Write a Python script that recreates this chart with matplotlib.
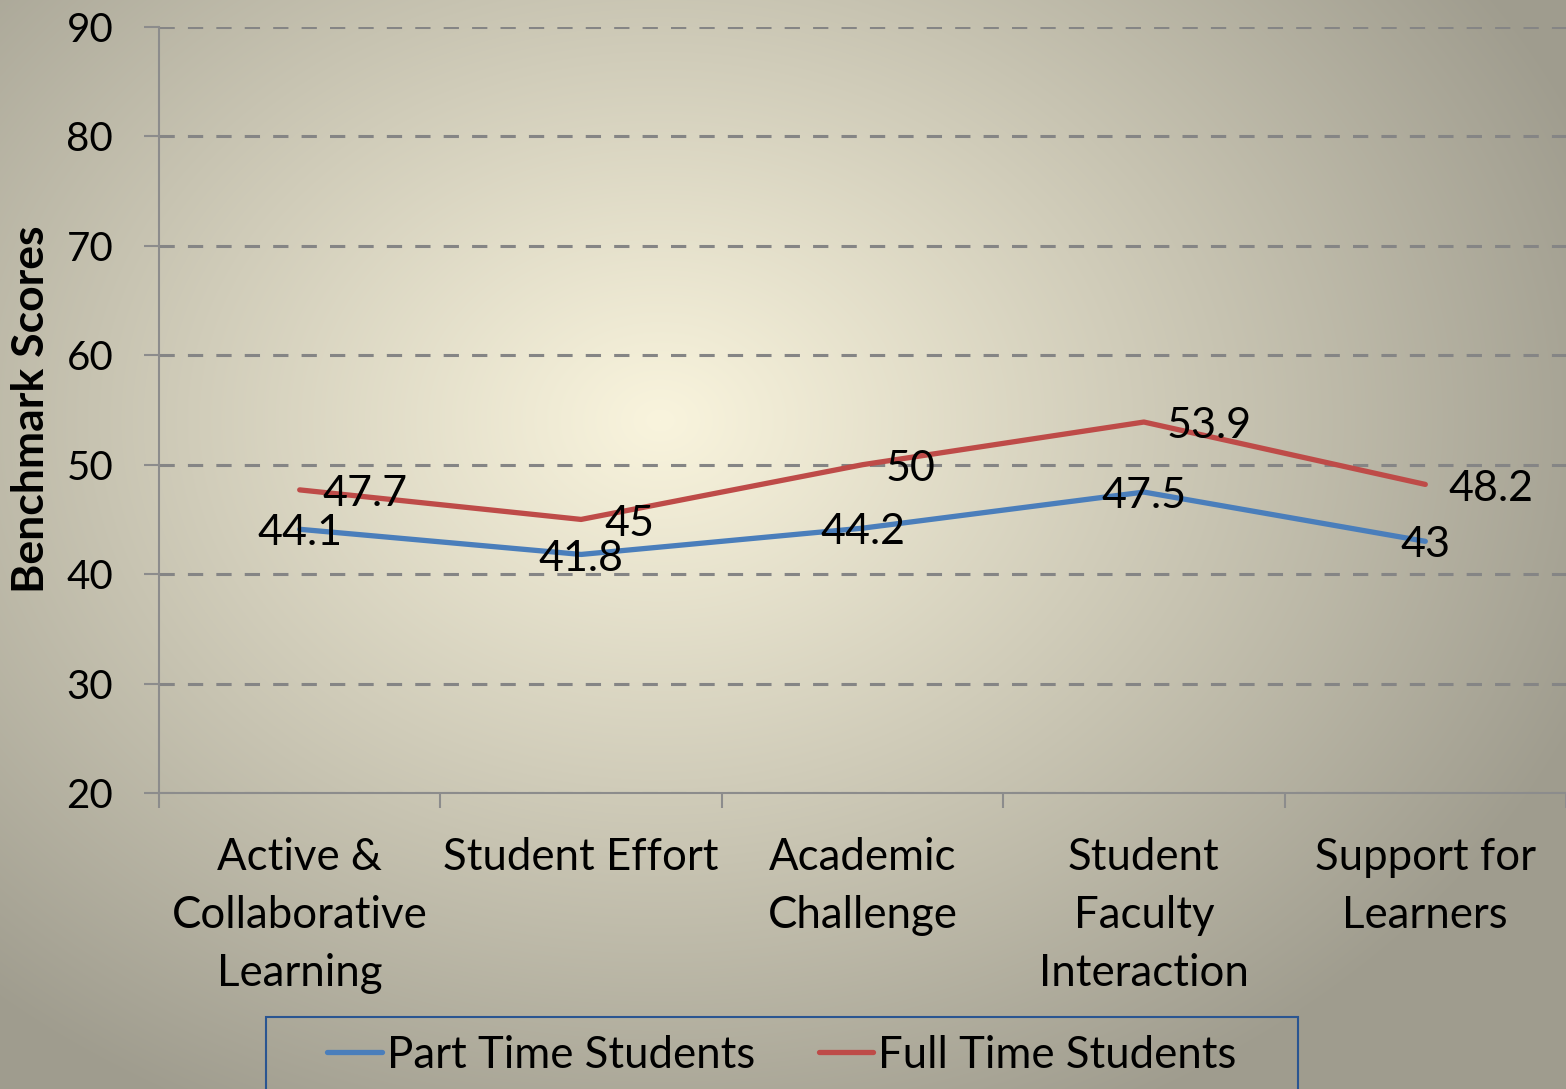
import numpy as np
import matplotlib
matplotlib.use("Agg")
import matplotlib.pyplot as plt
from matplotlib.colors import to_rgb
from matplotlib.patches import Rectangle

categories = ["Active &\nCollaborative\nLearning", "Student Effort", "Academic\nChallenge",
              "Student\nFaculty\nInteraction", "Support for\nLearners"]
part_time = [44.1, 41.8, 44.2, 47.5, 43]
full_time = [47.7, 45, 50, 53.9, 48.2]
yticks = [20, 30, 40, 50, 60, 70, 80, 90]

FONT = "Lato"
plt.rcParams['font.family'] = [FONT, 'DejaVu Sans']

W, H = 1566, 1089
fig = plt.figure(figsize=(W / 100, H / 100), dpi=100)

# radial gradient background
bg = fig.add_axes([0, 0, 1, 1], zorder=-10)
yy, xx = np.mgrid[0:H, 0:W]
r = np.sqrt(((xx - 660) / 1000.0) ** 2 + ((yy - 420) / 780.0) ** 2)
t = np.clip(r, 0, 1) ** 1.05
c0 = np.array(to_rgb("#f9f4dd"))
c1 = np.array(to_rgb("#9f9c8e"))
img = c0[None, None, :] * (1 - t[..., None]) + c1[None, None, :] * t[..., None]
bg.imshow(img, aspect="auto", extent=[0, W, H, 0])
bg.axis("off")

ax = fig.add_axes([159 / W, 1 - 793 / H, (W - 159) / W, (793 - 27) / H])
ax.patch.set_alpha(0)
x = np.arange(len(categories))
ax.plot(x, part_time, color="#4a7ebb", lw=3.8, solid_capstyle="round", solid_joinstyle="round",
        label="Part Time Students", zorder=3)
ax.plot(x, full_time, color="#be4b48", lw=3.8, solid_capstyle="round", solid_joinstyle="round",
        label="Full Time Students", zorder=3)

for xi, v in zip(x, part_time):
    ax.annotate(f"{v:g}", (xi, v), xytext=(0, -3), textcoords="offset points",
                ha="center", va="center", fontsize=31, zorder=4)
for xi, v in zip(x, full_time):
    ax.annotate(f"{v:g}", (xi, v), xytext=(16.5, -3), textcoords="offset points",
                ha="left", va="center", fontsize=31, zorder=4)

ax.set_xlim(-0.5, len(categories) - 0.5)
ax.set_ylim(20, 90)
ax.set_yticks(yticks)
ax.set_yticklabels([str(v) for v in yticks], fontsize=29)
ax.set_xticks(x)
ax.set_xticklabels(categories, fontsize=31.5, linespacing=1.52)
ax.set_xticks(np.arange(-0.5, len(categories), 1.0), minor=True)
ax.tick_params(axis="x", which="major", length=0, pad=31.5)
ax.tick_params(axis="x", which="minor", length=11, width=1.5, color="#8c8c8c", direction="out")
ax.tick_params(axis="y", length=11, width=1.5, color="#8c8c8c", pad=22)
ax.grid(axis="y", color="#858585", linestyle=(0, (5, 4.3)), lw=2.2)
ax.set_axisbelow(True)
for s in ["top", "right"]:
    ax.spines[s].set_visible(False)
for s in ["left", "bottom"]:
    ax.spines[s].set_color("#8c8c8c")
    ax.spines[s].set_linewidth(1.5)
fig.text(31 / W, 1 - 409 / H, "Benchmark Scores", rotation=90, ha="center", va="center",
         fontsize=32, fontweight="bold")

# legend frame
fig.patches.append(Rectangle((266 / W, -0.05), (1298 - 266) / W, 0.05 + (1 - 1017 / H),
                             transform=fig.transFigure, fill=False, edgecolor="#2a5591",
                             linewidth=1.5, zorder=5))
leg = fig.legend(loc="center", bbox_to_anchor=(782 / W, 1 - 1055 / H), ncol=2, fontsize=31.5,
                 frameon=False, handlelength=1.25, handletextpad=0.11,
                 columnspacing=1.45, borderpad=0.0)

fig.savefig("out.png", dpi=100)
